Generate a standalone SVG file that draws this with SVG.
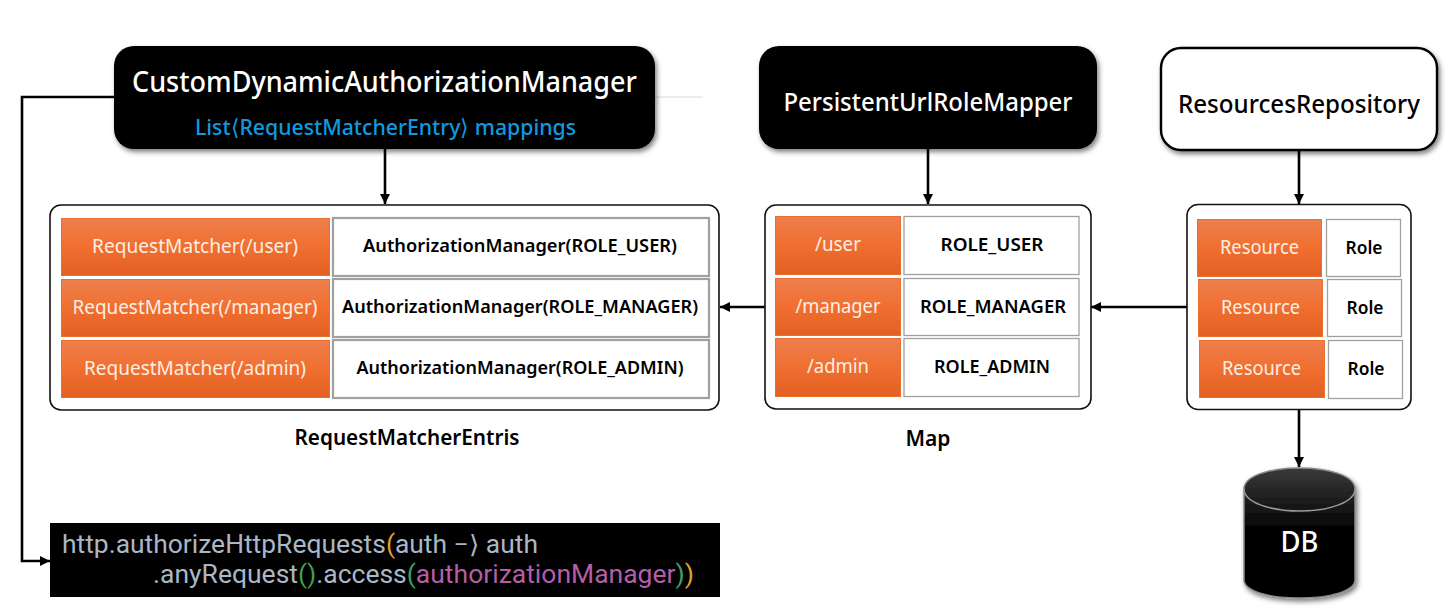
<svg xmlns="http://www.w3.org/2000/svg" width="1451" height="613" viewBox="0 0 1451 613">
<style>
text{font-family:"Noto Sans","Liberation Sans",sans-serif;text-anchor:middle}
.w{fill:#fff;font-weight:500}
.o{fill:url(#og);stroke:#e9702f;stroke-width:1}
.c{fill:#fff;stroke:#a0a0a0;stroke-width:1.3}
.c2{fill:#fff;stroke:#a0a0a0;stroke-width:2.2}
.box{fill:#fff;stroke:#111;stroke-width:1.6}
.t{font-size:19.500px;fill:#fdeee4}
.b{font-size:18.500px;fill:#000;font-weight:600}
.l{fill:none;stroke:#000;stroke-width:2.6}
.code{font-size:25px;font-family:Roboto,"Noto Sans",sans-serif;text-anchor:start}
</style>
<defs>
<linearGradient id="og" x1="0" y1="0" x2="0" y2="1"><stop offset="0" stop-color="#ee7f4d"/><stop offset=".5" stop-color="#f06f30"/><stop offset="1" stop-color="#e26022"/></linearGradient>
<linearGradient id="db" x1="0" y1="0" x2="0" y2="1"><stop offset="0" stop-color="#3a3a3a"/><stop offset=".35" stop-color="#111"/><stop offset=".5" stop-color="#000"/></linearGradient>
<filter id="sh" x="-10%" y="-20%" width="120%" height="140%"><feDropShadow dx="2" dy="3" stdDeviation="2.5" flood-color="#000" flood-opacity=".5"/></filter>
<marker id="a" markerUnits="userSpaceOnUse" markerWidth="11" markerHeight="11" refX="10" refY="5" orient="auto"><path d="M0 0L10 5L0 10z" fill="#000"/></marker>
</defs>
<line x1="640" y1="97" x2="703" y2="97" stroke="#d9d9d9" stroke-width="1"/>
<g id="connectors">
<path class="l" d="M114 97H22V561H50" marker-end="url(#a)"/>
<path class="l" d="M385 149V204" marker-end="url(#a)"/>
<path class="l" d="M928 149V204" marker-end="url(#a)"/>
<path class="l" d="M1299 150V204" marker-end="url(#a)"/>
<path class="l" d="M765 307H720" marker-end="url(#a)"/>
<path class="l" d="M1187 307H1091" marker-end="url(#a)"/>
<path class="l" d="M1299 410V467" marker-end="url(#a)"/>
</g>
<g id="custom-manager">
<rect x="114" y="46" width="541" height="103" rx="20" fill="#000" filter="url(#sh)"/>
<text class="w" x="384.500" y="92" font-size="28" textLength="505" lengthAdjust="spacingAndGlyphs">CustomDynamicAuthorizationManager</text>
<text x="385.500" y="135" font-size="21.500" font-weight="500" fill="#0f9ae0" textLength="381" lengthAdjust="spacingAndGlyphs">List⟨RequestMatcherEntry⟩ mappings</text>
</g>
<g id="url-role-mapper">
<rect x="759" y="46" width="338" height="103" rx="20" fill="#000" filter="url(#sh)"/>
<text class="w" x="928" y="111" font-size="25" textLength="289" lengthAdjust="spacingAndGlyphs">PersistentUrlRoleMapper</text>
</g>
<g id="resources-repository">
<rect x="1161" y="48" width="276" height="102" rx="20" fill="#fff" stroke="#000" stroke-width="2.4" filter="url(#sh)"/>
<text x="1299" y="113" font-size="24.500" font-weight="500" fill="#000" textLength="242" lengthAdjust="spacingAndGlyphs">ResourcesRepository</text>
</g>
<g id="request-matcher-entries">
<rect class="box" x="50" y="205" width="669" height="205" rx="11"/>
<rect class="o" x="61.500" y="218.500" width="268" height="57"/>
<rect class="c2" x="333" y="218" width="376" height="58"/>
<rect class="o" x="61.500" y="279.500" width="268" height="57"/>
<rect class="c2" x="333" y="279" width="376" height="58"/>
<rect class="o" x="61.500" y="340.500" width="268" height="57"/>
<rect class="c2" x="333" y="340" width="376" height="58"/>
<text class="t" x="195" y="253" textLength="206" lengthAdjust="spacingAndGlyphs">RequestMatcher(/user)</text>
<text class="t" x="195" y="314" textLength="245" lengthAdjust="spacingAndGlyphs">RequestMatcher(/manager)</text>
<text class="t" x="195" y="375" textLength="222" lengthAdjust="spacingAndGlyphs">RequestMatcher(/admin)</text>
<text class="b" x="520" y="252" textLength="314" lengthAdjust="spacingAndGlyphs">AuthorizationManager(ROLE_USER)</text>
<text class="b" x="520" y="313" textLength="356" lengthAdjust="spacingAndGlyphs">AuthorizationManager(ROLE_MANAGER)</text>
<text class="b" x="520" y="374" textLength="327" lengthAdjust="spacingAndGlyphs">AuthorizationManager(ROLE_ADMIN)</text>
<text x="407" y="445" font-size="21.500" font-weight="600" fill="#000" textLength="225" lengthAdjust="spacingAndGlyphs">RequestMatcherEntris</text>
</g>
<g id="map">
<rect class="box" x="765" y="205" width="326" height="204" rx="11"/>
<rect class="o" x="775.500" y="216.500" width="125" height="58"/>
<rect class="c" x="904" y="216.500" width="175" height="58"/>
<rect class="o" x="775.500" y="278.500" width="125" height="57"/>
<rect class="c" x="904" y="278.500" width="175" height="57"/>
<rect class="o" x="775.500" y="338.500" width="125" height="58"/>
<rect class="c" x="904" y="338.500" width="175" height="58"/>
<text class="t" x="838" y="251" textLength="46" lengthAdjust="spacingAndGlyphs">/user</text>
<text class="t" x="838" y="313" textLength="85" lengthAdjust="spacingAndGlyphs">/manager</text>
<text class="t" x="838" y="373" textLength="62" lengthAdjust="spacingAndGlyphs">/admin</text>
<text class="b" x="992" y="251" textLength="103" lengthAdjust="spacingAndGlyphs">ROLE_USER</text>
<text class="b" x="993" y="313" textLength="146" lengthAdjust="spacingAndGlyphs">ROLE_MANAGER</text>
<text class="b" x="992" y="373" textLength="116" lengthAdjust="spacingAndGlyphs">ROLE_ADMIN</text>
<text x="928" y="446" font-size="21.500" font-weight="600" fill="#000" textLength="45" lengthAdjust="spacingAndGlyphs">Map</text>
</g>
<g id="resources">
<rect class="box" x="1187" y="204.500" width="224" height="205" rx="11"/>
<rect class="o" x="1197.500" y="219.500" width="124" height="57"/>
<rect class="c" x="1326.500" y="219.500" width="74" height="57"/>
<rect class="o" x="1198.500" y="279.500" width="124" height="57"/>
<rect class="c" x="1327.500" y="279.500" width="74" height="57"/>
<rect class="o" x="1199.500" y="340.500" width="125" height="57"/>
<rect class="c" x="1328.500" y="340.500" width="74" height="58"/>
<text class="t" x="1259.500" y="254" textLength="79" lengthAdjust="spacingAndGlyphs">Resource</text>
<text class="t" x="1260.500" y="314" textLength="79" lengthAdjust="spacingAndGlyphs">Resource</text>
<text class="t" x="1261.500" y="375" textLength="79" lengthAdjust="spacingAndGlyphs">Resource</text>
<text class="b" x="1364" y="254" textLength="37" lengthAdjust="spacingAndGlyphs">Role</text>
<text class="b" x="1365" y="314" textLength="37" lengthAdjust="spacingAndGlyphs">Role</text>
<text class="b" x="1366" y="375" textLength="37" lengthAdjust="spacingAndGlyphs">Role</text>
</g>
<g id="db">
<path d="M1244 489C1244 476 1269 468 1299.500 468C1330 468 1355 476 1355 489V580C1355 591 1330 598 1299.500 598C1269 598 1244 591 1244 580Z" fill="url(#db)" stroke="#8a8a8a" stroke-width="1.5" filter="url(#sh)"/>
<path d="M1244 489C1244 502 1269 511 1299.500 511C1330 511 1355 502 1355 489" fill="none" stroke="#999" stroke-width="1.5"/>
<text class="w" x="1299.500" y="552" font-size="28" textLength="38" lengthAdjust="spacingAndGlyphs">DB</text>
</g>
<g id="code">
<rect x="50" y="523" width="670" height="74" fill="#000"/>
<text class="code" x="62" y="553" fill="#a9b7c6" textLength="476" lengthAdjust="spacingAndGlyphs">http.authorizeHttpRequests<tspan fill="#e0a030">(</tspan>auth −⟩ auth</text>
<text class="code" x="153" y="583" fill="#a9b7c6" textLength="541" lengthAdjust="spacingAndGlyphs">.anyRequest<tspan fill="#3f9f4f">()</tspan>.access<tspan fill="#3f9f6f">(</tspan><tspan fill="#b45ea8">authorizationManager</tspan><tspan fill="#3f9f6f">)</tspan><tspan fill="#e0a030">)</tspan></text>
</g>
</svg>
